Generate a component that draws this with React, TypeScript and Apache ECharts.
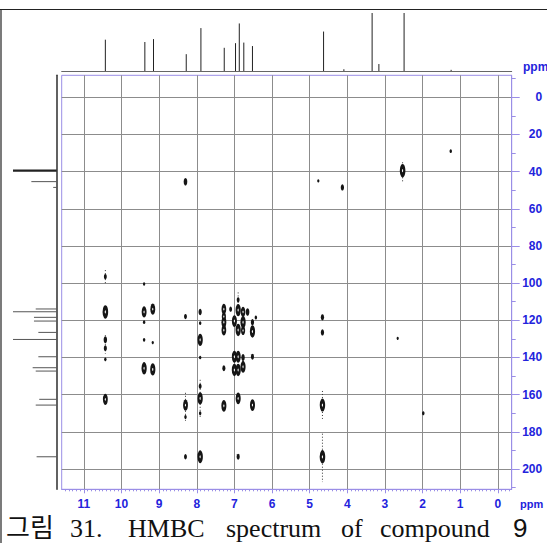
import React, { useEffect, useRef } from "react";
import * as echarts from "echarts";

// ---- axis ticks ----
const X_TICKS = [0, 1, 2, 3, 4, 5, 6, 7, 8, 9, 10, 11];
const Y_TICKS = [0, 20, 40, 60, 80, 100, 120, 140, 160, 180, 200];
const Y_MINOR_TICKS = [-10, 10, 30, 50, 70, 90, 110, 130, 150, 170, 190, 210];
const X_MINOR_TICKS: number[] = [];
for (let k = -3; k <= 115; k++) X_MINOR_TICKS.push(k / 10);

// ---- 1H projection (top) ----
const H_PEAK_PPM = [10.43, 9.38, 9.15, 8.28, 7.89, 7.27, 6.97, 6.87, 6.75, 6.52, 4.63, 4.09, 3.34, 3.16, 2.49, 1.24];
const H_PEAK_INT = [0.54, 0.5, 0.55, 0.29, 0.74, 0.4, 0.48, 0.82, 0.49, 0.43, 0.68, 0.03, 1.0, 0.12, 1.0, 0.02];

// ---- 13C projection (left) ----
const C_PEAK_PPM = [39.5, 45.4, 48.5, 113.9, 115.4, 118.4, 120.4, 126.5, 130.3, 139.6, 145.5, 147.3, 162.5, 165.6, 193.4];
const C_PEAK_INT = [1.0, 0.58, 0.08, 0.48, 1.0, 0.52, 0.52, 0.42, 1.0, 0.42, 0.55, 0.48, 0.4, 0.48, 0.46];

// ---- HMBC cross peaks ----
const CROSS_H = [
  10.43, 10.43, 10.43, 10.43, 10.43, 10.43,
  9.4, 9.4, 9.4, 9.4, 9.4,
  9.17, 9.17, 9.17,
  8.3, 8.3, 8.3, 8.3, 8.3,
  7.91, 7.91, 7.91, 7.91, 7.91, 7.91, 7.91, 7.91,
  7.28, 7.28, 7.28, 7.28, 7.28, 7.28,
  7.1,
  7.0, 7.0, 7.0,
  6.9, 6.9, 6.9, 6.9, 6.9, 6.9, 6.9,
  6.77, 6.77, 6.77, 6.77, 6.77,
  6.65,
  6.52, 6.52, 6.52, 6.52,
  6.43,
  4.66, 4.66, 4.66, 4.66,
  4.77, 4.13, 2.53, 2.66, 1.98, 1.25,
];
const CROSS_C = [
  96.5, 115.5, 130.5, 135.0, 141.0, 162.5,
  100.5, 115.5, 121.0, 130.5, 145.8,
  114.0, 132.0, 146.4,
  45.5, 118.0, 165.6, 172.0, 193.4,
  115.5, 121.5, 130.5, 140.0, 155.5, 162.0, 170.0, 193.4,
  114.0, 118.0, 121.0, 125.3, 145.8, 166.0,
  114.0,
  120.4, 139.6, 146.7,
  109.0, 114.5, 125.2, 139.6, 146.7, 162.0, 193.4,
  115.5, 121.0, 125.5, 140.0, 145.0,
  115.5,
  121.0, 126.0, 139.6, 165.6,
  118.5,
  118.4, 126.5, 165.6, 193.4,
  45.0, 48.5, 39.5, 129.7, 170.0, 29.0,
];
const CROSS_I = [
  0.25, 1.0, 0.4, 0.3, 0.1, 0.8,
  0.08, 0.8, 0.12, 0.12, 0.9,
  0.8, 0.08, 0.9,
  0.45, 0.25, 0.8, 0.12, 0.25,
  0.35, 0.12, 0.9, 0.1, 0.25, 0.9, 0.12, 0.95,
  0.75, 0.6, 0.8, 0.75, 0.3, 0.85,
  0.25,
  0.85, 0.85, 0.9,
  0.25, 0.9, 0.9, 0.85, 0.9, 0.85, 0.3,
  0.7, 0.9, 0.6, 0.4, 0.85,
  0.45,
  0.35, 0.9, 0.3, 0.85,
  0.12,
  0.35, 0.35, 0.95, 1.0,
  0.06, 0.35, 1.0, 0.06, 0.15, 0.12,
];

// ---- t1-noise streaks (1H ppm, 13C from, 13C to) ----
const STREAK_H = [10.43, 10.43, 8.3, 7.91, 4.66, 4.66, 2.53, 6.9];
const STREAK_C1 = [93, 128, 159, 152, 158, 181, 35, 105];
const STREAK_C2 = [100, 138, 174, 172, 173, 207, 46, 112];

const CAPTION_WORDS = ["그림", "31.", "HMBC", "spectrum", "of", "compound", "9"];

const X_MIN = -0.37;
const X_MAX = 11.59;
const Y_MIN = -11.8;
const Y_MAX = 210.9;

const PURPLE = "#9a8ee6";
const BLUE = "#2323dc";
const GRIDGRAY = "#8c8c8c";

export default function App() {
  const ref = useRef<HTMLDivElement>(null);

  useEffect(() => {
    document.body.style.margin = "0";
    if (!ref.current) return;
    const chart = echarts.init(ref.current, null, { renderer: "svg" });

    const crossData = CROSS_H.map((h, i) => [h, CROSS_C[i], CROSS_I[i]]);
    const streakData = STREAK_H.map((h, i) => [h, STREAK_C1[i], STREAK_C2[i]]);
    const hProj = H_PEAK_PPM.map((p, i) => [p, H_PEAK_INT[i]]);
    const cProj = C_PEAK_PPM.map((p, i) => [C_PEAK_INT[i], p]);

    const labelFont = {
      color: BLUE,
      fontWeight: "bold" as const,
      fontSize: 12,
      fontFamily: "'Liberation Sans', Arial, sans-serif",
    };

    const captionX = [6, 70, 128, 226, 341, 380, 513];

    const option: any = {
      animation: false,
      backgroundColor: "#ffffff",
      grid: [
        {
          left: 61.7,
          right: 35.3,
          top: 75.3,
          bottom: 53.7,
          show: true,
          borderColor: PURPLE,
          borderWidth: 1,
          backgroundColor: "transparent",
        },
        { left: 61.7, right: 35.3, top: 13, height: 58 },
        { left: 13, width: 43.7, top: 75.3, bottom: 53.7 },
      ],
      xAxis: [
        {
          gridIndex: 0,
          type: "value",
          min: X_MIN,
          max: X_MAX,
          inverse: true,
          position: "bottom",
          axisLine: { show: true, onZero: false, lineStyle: { color: PURPLE, width: 1 } },
          axisTick: { show: true, length: 4, customValues: X_TICKS, lineStyle: { color: PURPLE } },
          axisLabel: { ...labelFont, margin: 9, customValues: X_TICKS },
          splitLine: { show: true, lineStyle: { color: GRIDGRAY, width: 1 } },
        },
        {
          gridIndex: 0,
          type: "value",
          min: X_MIN,
          max: X_MAX,
          inverse: true,
          position: "bottom",
          axisLine: { show: false, onZero: false },
          axisTick: { show: true, length: 2, customValues: X_MINOR_TICKS, lineStyle: { color: PURPLE } },
          axisLabel: { show: false },
          splitLine: { show: false },
        },
        {
          gridIndex: 1,
          type: "value",
          min: X_MIN,
          max: X_MAX,
          inverse: true,
          position: "bottom",
          axisLine: { show: true, onZero: false, lineStyle: { color: "#666", width: 1 } },
          axisTick: { show: false },
          axisLabel: { show: false },
          splitLine: { show: false },
        },
        {
          gridIndex: 2,
          type: "value",
          min: 0,
          max: 1,
          inverse: true,
          show: false,
        },
      ],
      yAxis: [
        {
          gridIndex: 0,
          type: "value",
          min: Y_MIN,
          max: Y_MAX,
          inverse: true,
          position: "right",
          axisLine: { show: true, onZero: false, lineStyle: { color: PURPLE, width: 1 } },
          axisTick: { show: true, length: 8, customValues: Y_TICKS, lineStyle: { color: PURPLE } },
          axisLabel: { ...labelFont, margin: 30.5, align: "right", customValues: Y_TICKS },
          splitLine: { show: true, lineStyle: { color: GRIDGRAY, width: 1 } },
        },
        {
          gridIndex: 0,
          type: "value",
          min: Y_MIN,
          max: Y_MAX,
          inverse: true,
          position: "right",
          axisLine: { show: false, onZero: false },
          axisTick: { show: true, length: 4, customValues: Y_MINOR_TICKS, lineStyle: { color: PURPLE } },
          axisLabel: { show: false },
          splitLine: { show: false },
        },
        {
          gridIndex: 1,
          type: "value",
          min: 0,
          max: 1,
          show: false,
        },
        {
          gridIndex: 2,
          type: "value",
          min: Y_MIN,
          max: Y_MAX,
          inverse: true,
          position: "right",
          axisLine: { show: true, onZero: false, lineStyle: { color: "#3a3a3a", width: 1.6 } },
          axisTick: { show: false },
          axisLabel: { show: false },
          splitLine: { show: false },
        },
      ],
      series: [
        {
          type: "custom",
          xAxisIndex: 0,
          yAxisIndex: 0,
          data: streakData,
          silent: true,
          renderItem: (params: any, api: any) => {
            const a = api.coord([api.value(0), api.value(1)]);
            const b = api.coord([api.value(0), api.value(2)]);
            return {
              type: "line",
              shape: { x1: a[0], y1: a[1], x2: b[0], y2: b[1] },
              style: { stroke: "#333", lineWidth: 1, lineDash: [1, 2] },
            };
          },
        },
        {
          type: "scatter",
          xAxisIndex: 0,
          yAxisIndex: 0,
          data: crossData,
          symbol: "circle",
          symbolSize: (v: number[]) => [2 + 3.6 * v[2], 2.5 + 11 * v[2]],
          itemStyle: { color: "#151515", opacity: 1 },
          silent: true,
        },
        {
          type: "scatter",
          xAxisIndex: 0,
          yAxisIndex: 0,
          data: crossData.filter((d) => d[2] >= 0.6),
          symbol: "circle",
          symbolSize: (v: number[]) => [1.1, 1 + 2.2 * v[2]],
          itemStyle: { color: "#ffffff", opacity: 1 },
          silent: true,
        },
        {
          type: "custom",
          xAxisIndex: 2,
          yAxisIndex: 2,
          data: hProj,
          silent: true,
          renderItem: (params: any, api: any) => {
            const a = api.coord([api.value(0), 0]);
            const b = api.coord([api.value(0), api.value(1)]);
            return {
              type: "line",
              shape: { x1: a[0], y1: a[1], x2: b[0], y2: b[1] },
              style: { stroke: "#222", lineWidth: 1 },
            };
          },
        },
        {
          type: "custom",
          xAxisIndex: 3,
          yAxisIndex: 3,
          data: cProj,
          silent: true,
          renderItem: (params: any, api: any) => {
            const a = api.coord([0, api.value(1)]);
            const b = api.coord([api.value(0), api.value(1)]);
            const solvent = api.value(1) < 42;
            return {
              type: "line",
              shape: { x1: a[0], y1: a[1], x2: b[0], y2: b[1] },
              style: { stroke: solvent ? "#222" : "#555", lineWidth: solvent ? 2.2 : 1 },
            };
          },
        },
      ],
      graphic: [
        { type: "line", shape: { x1: 0, y1: 9.5, x2: 547, y2: 9.5 }, style: { stroke: "#222", lineWidth: 1.2 } },
        { type: "line", shape: { x1: 1, y1: 9.5, x2: 1, y2: 543 }, style: { stroke: "#222", lineWidth: 1.2 } },
        {
          type: "text",
          x: 523,
          y: 67,
          style: { text: "ppm", fill: BLUE, font: "bold 12px 'Liberation Sans', Arial, sans-serif", verticalAlign: "middle", align: "left" },
        },
        {
          type: "text",
          x: 520,
          y: 504,
          style: { text: "ppm", fill: BLUE, font: "bold 11px 'Liberation Sans', Arial, sans-serif", verticalAlign: "middle", align: "left" },
        },
        ...CAPTION_WORDS.map((w, i) => ({
          type: "text",
          x: captionX[i],
          y: 528,
          style: {
            text: w,
            fill: "#111",
            font:
              i === CAPTION_WORDS.length - 1
                ? "26px 'Liberation Sans', Arial, sans-serif"
                : "26px 'Liberation Serif', 'Times New Roman', 'Noto Sans CJK KR', serif",
            verticalAlign: "middle",
            align: "left",
          },
        })),
      ],
    };

    chart.setOption(option);
    return () => chart.dispose();
  }, []);

  return (
    <div
      ref={ref}
      style={{ position: "fixed", left: 0, top: 0, width: 547, height: 543, background: "#fff" }}
    />
  );
}
